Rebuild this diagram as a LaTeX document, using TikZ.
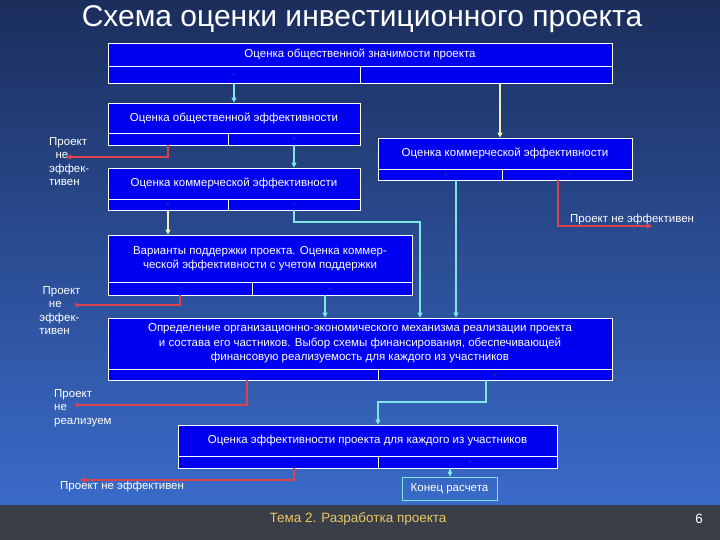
\documentclass[tikz,border=0pt]{standalone}
\usepackage{fontspec}
\setmainfont{Liberation Sans}
\usetikzlibrary{arrows.meta,calc}
\definecolor{bgtop}{HTML}{1B2E5C}
\definecolor{bgbot}{HTML}{3A6BC9}
\definecolor{boxblue}{HTML}{0000F0}
\definecolor{cy}{HTML}{7FE6E6}
\definecolor{yl}{HTML}{F0F0B0}
\definecolor{rd}{HTML}{D9434B}
\definecolor{foot}{HTML}{3A3E48}
\definecolor{foottxt}{HTML}{E8C860}
\definecolor{sign}{HTML}{3030A0}
\tikzset{
  box/.style={draw=white,line width=0.8pt,fill=boxblue,text=white,align=center,inner sep=0pt},
  btxt/.style={text=white,font=\fontsize{11.5}{14.5}\selectfont,align=center,inner sep=0pt},
  cyarr/.style={draw=cy,line width=1.6pt,-{Triangle[length=5pt,width=5pt]}},
  ylarr/.style={draw=yl,line width=1.6pt,-{Triangle[length=5pt,width=5pt]}},
  rdarr/.style={draw=rd,line width=2pt,-{Triangle[length=5pt,width=5pt]}},
  rddot/.style={draw=rd,line width=2pt,-{Circle[length=4pt]}},
  lbl/.style={text=white,font=\fontsize{11.5}{13.5}\selectfont,align=left,inner sep=0pt},
  sg/.style={text=sign,font=\fontsize{8}{8}\selectfont,inner sep=0pt}
}
\newcommand{\bx}[7]{% name, x1,y1,x2,y2,rowy, text
  \node[box,minimum width={#4-#2},minimum height={#5-#3}] (#1) at ({(#2+#4)/2},{(#3+#5)/2}) {};
  \node[btxt] at ({(#2+#4)/2},{(#3+#6)/2}) {#7};
  \draw[white,line width=0.8pt] (#2,#6) -- (#4,#6);
}
\begin{document}
\begin{tikzpicture}[x=1pt,y=-1pt]
\useasboundingbox (0,0) rectangle (720,540);
\shade[top color=bgtop,bottom color=bgbot] (0,0) rectangle (720,505);
\fill[foot] (0,505) rectangle (720,540);
\node[text=white,font=\fontsize{30}{32}\selectfont] (title) at (362,19) {Схема оценки инвестиционного проекта};
% boxes
\bx{b1}{108}{43}{612}{83}{66}{Оценка общественной значимости проекта}
\draw[white,line width=0.8pt] (360,66) -- (360,83);
\bx{b2}{108}{103}{360}{145}{133}{Оценка общественной эффективности}
\draw[white,line width=0.8pt] (228,133) -- (228,145);
\bx{b3}{378}{138}{632}{180}{169}{Оценка коммерческой эффективности}
\draw[white,line width=0.8pt] (502,169) -- (502,180);
\bx{b4}{108}{168}{360}{210}{199}{Оценка коммерческой эффективности}
\draw[white,line width=0.8pt] (228,199) -- (228,210);
\bx{b5}{108}{235}{412}{295}{282}{Варианты поддержки проекта. Оценка коммер-\\ческой эффективности с учетом поддержки}
\draw[white,line width=0.8pt] (252,282) -- (252,295);
\bx{b6}{108}{318}{612}{380}{369}{Определение организационно-экономического механизма реализации проекта\\и состава его частников. Выбор схемы финансирования, обеспечивающей\\финансовую реализуемость для каждого из участников}
\draw[white,line width=0.8pt] (378,369) -- (378,380);
\bx{b7}{178}{425}{557}{468}{456}{Оценка эффективности проекта для каждого из участников}
\draw[white,line width=0.8pt] (378,456) -- (378,468);
\node[draw=cy,line width=0.8pt,text=white,font=\fontsize{11.5}{13}\selectfont,minimum width=95pt,minimum height=23pt,inner sep=0pt] (b8) at (449.5,488.5) {Конец расчета};
% signs
\node[sg] at (234,75) {+};
\node[sg] at (168,139) {–}; \node[sg] at (294,139) {+};
\node[sg] at (446,175) {+}; \node[sg] at (570,175) {–};
\node[sg] at (168,205) {+}; \node[sg] at (294,205) {–};
\node[sg] at (180,289) {–}; \node[sg] at (330,289) {+};
\node[sg] at (248,375) {–}; \node[sg] at (495,375) {+};
\node[sg] at (295,462) {–}; \node[sg] at (470,462) {+};
% labels
\node[lbl,anchor=north west] (l1) at (49,137) {Проект\\\ \ не\\эффек-\\тивен};
\node[lbl,anchor=west] (l2) at (570,220) {Проект не эффективен};
\node[lbl,anchor=north west] (l3) at (36,286) {\ \ Проект\\\ \ \ \ не\\\ эффек-\\\ тивен};
\node[lbl,anchor=north west] (l4) at (54,389) {Проект\\не\\реализуем};
\node[lbl,anchor=west] (l5) at (60,487) {Проект не эффективен};
% free ends
\coordinate (e1) at (66,157);
\coordinate (e2) at (652,226);
\coordinate (e3) at (75,305);
\coordinate (e4) at (75,405);
\coordinate (e5) at (80,480);
% connectors
\draw[cyarr] (234,83) -- (234,0 |- b2.north);
\draw[ylarr] (500,83) -- (500,0 |- b3.north);
\draw[rdarr] (168,145) -- (168,157) -- (e1);
\draw[cyarr] (294,145) -- (294,0 |- b4.north);
\draw[ylarr] (168,210) -- (168,0 |- b5.north);
\draw[cyarr] (294,210) -- (294,222) -- (420,222) -- (420,0 |- b6.north);
\draw[cyarr] (456,180) -- (456,0 |- b6.north);
\draw[rdarr] (558,180) -- (558,226) -- (e2);
\draw[cyarr] (325,295) -- (325,0 |- b6.north);
\draw[rddot] (180,295) -- (180,305) -- (e3);
\draw[rddot] (247,380) -- (247,405) -- (e4);
\draw[cyarr] (486,380) -- (486,402) -- (378,402) -- (378,0 |- b7.north);
\draw[rdarr] (294,468) -- (294,480) -- (e5);
\draw[cyarr] (450,468) -- (450,0 |- b8.north);
% footer
\node[text=foottxt,font=\fontsize{13.5}{15}\selectfont] (ft) at (358,519) {Тема 2. Разработка проекта};
\node[text=white,font=\fontsize{13.5}{15}\selectfont] (pg) at (699,519) {6};
\end{tikzpicture}
\end{document}
